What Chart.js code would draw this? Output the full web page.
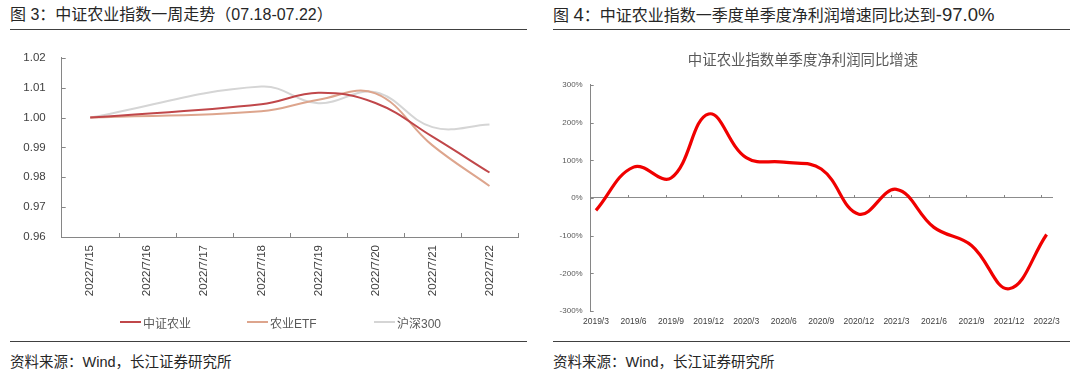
<!DOCTYPE html>
<html lang="zh">
<head>
<meta charset="utf-8">
<script src="https://cdn.jsdelivr.net/npm/chart.js@4.4.1/dist/chart.umd.min.js"></script>
<style>
  html, body { margin: 0; padding: 0; background: #fff; }
  body { width: 1080px; height: 373px; position: relative; overflow: hidden;
         font-family: "Liberation Sans", "Noto Sans CJK SC", sans-serif; color: #262626; }
  .title { position: absolute; top: 5px; font-size: 16px; line-height: 20px; white-space: nowrap; }
  .title .lat { font-size: 18.5px; }
  .rule { position: absolute; height: 0; border-top: 1.5px solid #404040; }
  .source { position: absolute; top: 352px; font-size: 14.5px; line-height: 20px; white-space: nowrap; }
  .box { position: absolute; }
  .legend { position: absolute; left: 120px; top: 313px; height: 18px; display: flex; z-index: 2;
            font-size: 12px; color: #595959; }
  .legend .item { width: 127px; display: flex; align-items: center; white-space: nowrap; }
  .legend .swatch { width: 21px; height: 0; border-top: 2px solid; margin-right: 2px; }
</style>
</head>
<body>
<div class="title" style="left:10px">图 3：中证农业指数一周走势（07.18-07.22）</div>
<div class="rule" style="left:10px;width:517px;top:29px"></div>
<div class="box" style="left:0;top:35px;width:540px;height:305px"><canvas id="weekChart"></canvas></div>
<div class="legend" id="weekLegend"></div>
<div class="rule" style="left:10px;width:517px;top:341px"></div>
<div class="source" style="left:10px">资料来源：Wind，长江证券研究所</div>

<div class="title" style="left:553px">图 <span class="lat">4</span>：中证农业指数一季度单季度净利润增速同比达到<span class="lat">-97.0%</span></div>
<div class="rule" style="left:553px;width:517px;top:29px"></div>
<div class="box" style="left:553px;top:35px;width:517px;height:305px"><canvas id="profitChart"></canvas></div>
<div class="rule" style="left:553px;width:517px;top:341px"></div>
<div class="source" style="left:553px">资料来源：Wind，长江证券研究所</div>

<script>
const FONT = '"Liberation Sans", "Noto Sans CJK SC", sans-serif';

// figure 3: one week, weekend days have no quotes
const weekDates = ['2022/7/15', '2022/7/16', '2022/7/17', '2022/7/18', '2022/7/19', '2022/7/20', '2022/7/21', '2022/7/22'];
const csiAgri = [1.000, null, null, 1.0045, 1.0083, 1.0049, 0.9936, 0.9816];
const agriEtf = [1.000, null, null, 1.0021, 1.0060, 1.0081, 0.9907, 0.9771];
const hs300 = [1.000, null, null, 1.0104, 1.0048, 1.0085, 0.9968, 0.9977];

// figure 4: quarterly net profit growth, %
const quarters = ['2019/3', '2019/6', '2019/9', '2019/12', '2020/3', '2020/6', '2020/9',
                  '2020/12', '2021/3', '2021/6', '2021/9', '2021/12', '2022/3'];
const profitGrowth = [-33, 82, 53, 223, 107, 95, 77, -43, 23, -78, -126, -241, -97];

// small tick marks drawn inside the plot, like the excel originals
const innerTicks = {
  id: 'innerTicks',
  beforeDatasetsDraw(chart, args, opts) {
    const {ctx} = chart;
    const xs = chart.scales.x, ys = chart.scales.y;
    const baseY = opts.atZero ? ys.getPixelForValue(0) : ys.bottom;
    ctx.save();
    ctx.strokeStyle = opts.color;
    ctx.lineWidth = 1;
    ctx.beginPath();
    ys.ticks.forEach((t, i) => {
      const py = Math.round(ys.getPixelForTick(i)) + 0.5;
      ctx.moveTo(ys.right, py);
      ctx.lineTo(ys.right + opts.len, py);
    });
    for (let i = 0; i < opts.xCount; i++) {
      const px = Math.round(xs.getPixelForValue(opts.xFrom + i)) + 0.5;
      ctx.moveTo(px, baseY);
      ctx.lineTo(px, baseY - opts.len);
    }
    ctx.stroke();
    ctx.restore();
  }
};

const weekChart = new Chart(document.getElementById('weekChart'), {
  type: 'line',
  data: {
    labels: weekDates,
    datasets: [
      { label: '中证农业', data: csiAgri, borderColor: '#C0474A', backgroundColor: '#C0474A' },
      { label: '农业ETF', data: agriEtf, borderColor: '#DDA58D', backgroundColor: '#DDA58D' },
      { label: '沪深300', data: hs300, borderColor: '#D5D5D5', backgroundColor: '#D5D5D5' }
    ]
  },
  options: {
    responsive: true,
    maintainAspectRatio: false,
    animation: false,
    elements: {
      line: { tension: 0.4, borderWidth: 2 },
      point: { radius: 0 }
    },
    spanGaps: true,
    layout: { padding: { top: 16, right: 22, left: 0, bottom: 38 } },
    scales: {
      x: {
        offset: true,
        grid: { drawOnChartArea: false, drawTicks: false },
        border: { color: '#868686' },
        ticks: { minRotation: 90, maxRotation: 90, padding: 8, color: '#404040', font: { family: FONT, size: 11.5 } },
        afterFit(s) { s.height = 65; }
      },
      y: {
        min: 0.96,
        max: 1.02,
        grid: { drawOnChartArea: false, drawTicks: false },
        border: { color: '#868686' },
        ticks: { stepSize: 0.01, padding: 16, color: '#404040', font: { family: FONT, size: 11.5 },
                 callback: v => v.toFixed(2) },
        afterFit(s) { s.width = 61.7; }
      }
    },
    plugins: {
      legend: { display: false },
      tooltip: { enabled: false },
      innerTicks: { color: '#868686', len: 4, xFrom: 0.5, xCount: 8 }
    }
  },
  plugins: [innerTicks]
});

// legend row under figure 3, built from the datasets
const legendBox = document.getElementById('weekLegend');
weekChart.data.datasets.forEach(ds => {
  const item = document.createElement('div');
  item.className = 'item';
  const swatch = document.createElement('span');
  swatch.className = 'swatch';
  swatch.style.borderColor = ds.borderColor;
  item.appendChild(swatch);
  item.appendChild(document.createTextNode(ds.label));
  legendBox.appendChild(item);
});

new Chart(document.getElementById('profitChart'), {
  type: 'line',
  data: {
    datasets: [{
      label: '中证农业指数单季度净利润同比增速',
      data: profitGrowth.map((v, i) => ({ x: i, y: v })),
      borderColor: '#F00000',
      borderWidth: 3.2,
      tension: 0.4,
      pointRadius: 0
    }]
  },
  options: {
    responsive: true,
    maintainAspectRatio: false,
    animation: false,
    layout: { padding: { top: 0, right: 17, left: 0, bottom: 0 } },
    scales: {
      x: {
        type: 'linear',
        min: -0.14,
        max: 12.17,
        grid: { display: false, drawTicks: false },
        border: { display: false },
        ticks: { stepSize: 1, includeBounds: false, autoSkip: false, maxRotation: 0, padding: 6,
                 color: '#404040', font: { family: FONT, size: 8.5 },
                 callback: v => quarters[v] ?? '' },
        afterFit(s) { s.height = 29; }
      },
      y: {
        min: -300,
        max: 300,
        grid: {
          drawTicks: false,
          color: ctx => ctx.tick && ctx.tick.value === 0 ? '#8C8C8C' : 'rgba(0,0,0,0)'
        },
        border: { color: '#868686' },
        ticks: { stepSize: 100, padding: 8, color: '#595959', font: { family: FONT, size: 8 },
                 callback: v => v + '%' },
        afterFit(s) { s.width = 37.7; }
      }
    },
    plugins: {
      title: {
        display: true,
        text: '中证农业指数单季度净利润同比增速',
        color: '#595959',
        font: { family: FONT, size: 14.4, weight: 'normal' },
        padding: { top: 17, bottom: 15.7 }
      },
      legend: { display: false },
      tooltip: { enabled: false },
      innerTicks: { color: '#868686', len: 3, xFrom: 0.86, xCount: 12, atZero: true }
    }
  },
  plugins: [innerTicks]
});
</script>
</body>
</html>
